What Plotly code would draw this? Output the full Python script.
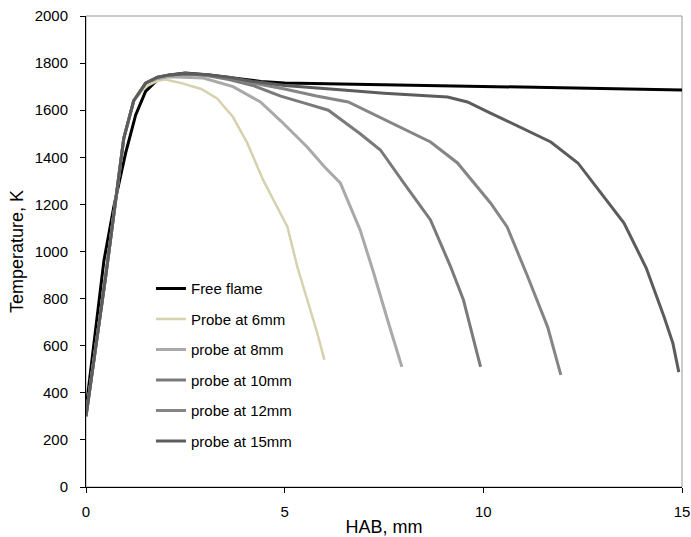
import plotly.graph_objects as go

# Free flame
ff_x = [0, 0.45, 0.7, 1.0, 1.25, 1.5, 1.8, 2.1, 2.5, 3.1, 3.7, 4.4, 5, 6, 8, 10, 12, 14, 15]
ff_t = [330, 960, 1190, 1420, 1580, 1680, 1730, 1750, 1758, 1750, 1737, 1722, 1716, 1713, 1709, 1704, 1698, 1690, 1686]

# Probe at 6mm
p6_x = [0, 0.5, 0.95, 1.2, 1.5, 1.8, 2.0, 2.4, 2.9, 3.3, 3.7, 4.06, 4.46, 4.8, 5.07, 5.32, 5.57, 5.82, 6.0]
p6_t = [300, 900, 1480, 1640, 1700, 1725, 1730, 1715, 1690, 1650, 1571, 1460, 1303, 1189, 1104, 934, 794, 654, 540]

# probe at 8mm
p8_x = [0, 0.5, 0.95, 1.2, 1.5, 1.8, 2.1, 2.4, 2.95, 3.7, 4.39, 4.9, 5.56, 6.0, 6.4, 6.9, 7.24, 7.59, 7.95]
p8_t = [300, 900, 1480, 1640, 1715, 1735, 1742, 1741, 1737, 1700, 1635, 1555, 1445, 1360, 1291, 1091, 909, 709, 510]

# probe at 10mm
p10_x = [0, 0.5, 0.95, 1.2, 1.5, 1.8, 2.1, 2.5, 3.0, 3.6, 4.2, 4.9, 5.5, 6.1, 6.9, 7.41, 8.0, 8.67, 9.18, 9.5, 9.93]
p10_t = [300, 900, 1480, 1640, 1715, 1740, 1750, 1755, 1748, 1730, 1705, 1660, 1630, 1600, 1500, 1431, 1290, 1134, 934, 794, 510]

# probe at 12mm
p12_x = [0, 0.5, 0.95, 1.2, 1.5, 1.8, 2.1, 2.5, 3.0, 3.6, 4.2, 5.0, 5.8, 6.6, 8.67, 9.35, 10.18, 10.6, 11.1, 11.62, 11.95]
p12_t = [300, 900, 1480, 1640, 1715, 1740, 1750, 1755, 1750, 1738, 1715, 1690, 1660, 1635, 1465, 1376, 1206, 1104, 900, 679, 476]

# probe at 15mm
p15_x = [0, 0.5, 0.95, 1.2, 1.5, 1.8, 2.1, 2.5, 3.0, 3.6, 4.2, 5.0, 6.15, 7.5, 9.1, 9.6, 10.18, 11.7, 12.38, 13.54, 14.1, 14.55, 14.77, 14.92]
p15_t = [300, 900, 1480, 1640, 1715, 1740, 1750, 1755, 1752, 1740, 1722, 1705, 1690, 1672, 1656, 1635, 1588, 1465, 1376, 1121, 930, 722, 611, 488]

x_ticks = [0, 5, 10, 15]
y_ticks = list(range(0, 2001, 200))

series = [
    ("Free flame", ff_x, ff_t, "#000000", 3),
    ("Probe at 6mm", p6_x, p6_t, "#d6d1ae", 2.5),
    ("probe at 8mm", p8_x, p8_t, "#a9a9a9", 3),
    ("probe at 10mm", p10_x, p10_t, "#7a7a7a", 3),
    ("probe at 12mm", p12_x, p12_t, "#858585", 3),
    ("probe at 15mm", p15_x, p15_t, "#5c5c5c", 3),
]

fig = go.Figure()
for i, (name, xs, ys, col, w) in enumerate(series):
    fig.add_trace(go.Scatter(
        x=xs, y=ys, mode="lines", name=name,
        line=dict(color=col, width=w, dash="solid"),
        legendgroup=f"g{i}",
    ))

font = dict(family="Liberation Sans, Arial, sans-serif", size=15, color="#000")

fig.update_layout(
    width=691, height=537,
    margin=dict(l=86, r=9, t=16, b=50, autoexpand=False),
    paper_bgcolor="white", plot_bgcolor="white",
    font=font,
    showlegend=True,
    legend=dict(
        x=0.109, y=0.456, xanchor="left", yanchor="top",
        bgcolor="rgba(0,0,0,0)", font=font,
        tracegroupgap=8, itemwidth=30,
    ),
    shapes=[dict(type="rect", xref="paper", yref="paper", x0=0, x1=1, y0=0, y1=1,
                 line=dict(color="#999999", width=1), layer="below")],
)
fig.update_xaxes(
    range=[0, 15], tickvals=x_ticks, ticks="outside", ticklen=5, tickcolor="#000",
    showline=True, linecolor="#000", linewidth=1, showgrid=False, zeroline=False,
    ticklabelstandoff=6, ticklabeloverflow="allow",
    title=dict(text="HAB, mm", standoff=2), tickfont=font,
)
fig.update_yaxes(
    range=[0, 2000], tickvals=y_ticks, ticks="outside", ticklen=5, tickcolor="#000",
    showline=True, linecolor="#000", linewidth=1, showgrid=False, zeroline=False,
    ticklabelstandoff=9, ticklabeloverflow="allow",
    title=dict(text="Temperature, K", standoff=6), tickfont=font,
)

fig.write_html(
    "out.html",
    config={"displayModeBar": False},
    post_script="document.body.style.margin='0px';document.body.style.overflow='hidden';",
)
